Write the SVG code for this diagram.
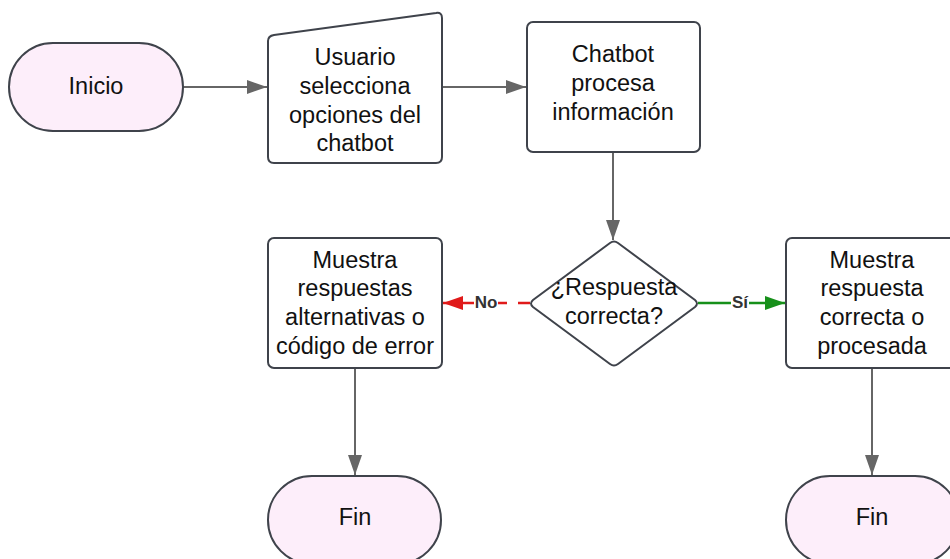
<svg xmlns="http://www.w3.org/2000/svg" width="950" height="559" viewBox="0 0 950 559">
<defs>
<style>
.node{fill:#ffffff;stroke:#3f434b;stroke-width:2}
.term{fill:#fdeefa;stroke:#3f434b;stroke-width:2}
.t{font-family:"Liberation Sans",Arial,sans-serif;font-size:23.5px;fill:#111;text-anchor:middle;dominant-baseline:central}
.c{fill:none;stroke:#666;stroke-width:2}
.lbl{font-family:"Liberation Sans",Arial,sans-serif;font-size:17px;font-weight:bold;fill:#333;text-anchor:middle;dominant-baseline:central}
</style>
<marker id="ag" markerWidth="20" markerHeight="14" refX="20" refY="7" orient="auto" markerUnits="userSpaceOnUse"><path d="M0,0 L20,7 L0,14 Z" fill="#666"/></marker>
<marker id="ar" markerWidth="20" markerHeight="14" refX="20" refY="7" orient="auto" markerUnits="userSpaceOnUse"><path d="M0,0 L20,7 L0,14 Z" fill="#e01a1a"/></marker>
<marker id="agr" markerWidth="20" markerHeight="14" refX="20" refY="7" orient="auto" markerUnits="userSpaceOnUse"><path d="M0,0 L20,7 L0,14 Z" fill="#17901a"/></marker>
</defs>
<rect width="950" height="559" fill="#ffffff"/>
<g id="connectors">
<line class="c" x1="183" y1="87" x2="267" y2="87" marker-end="url(#ag)"/>
<line class="c" x1="442" y1="87" x2="526" y2="87" marker-end="url(#ag)"/>
<line class="c" x1="613" y1="152" x2="613" y2="240" marker-end="url(#ag)"/>
<line x1="530" y1="303" x2="498" y2="303" stroke="#e01a1a" stroke-width="2.5" stroke-dasharray="12,11"/>
<line x1="474" y1="303" x2="443" y2="303" stroke="#e01a1a" stroke-width="2.5" marker-end="url(#ar)"/>
<text class="lbl" x="486" y="302">No</text>
<line x1="698" y1="303" x2="731" y2="303" stroke="#17901a" stroke-width="2.5"/>
<line x1="749" y1="303" x2="785" y2="303" stroke="#17901a" stroke-width="2.5" marker-end="url(#agr)"/>
<text class="lbl" x="740" y="302">Sí</text>
<line class="c" x1="355" y1="368" x2="355" y2="475" marker-end="url(#ag)"/>
<line class="c" x1="872" y1="368" x2="872" y2="475" marker-end="url(#ag)"/>
</g>
<g id="inicio">
<rect class="term" x="9" y="43" width="174" height="88" rx="44" ry="44"/>
<text class="t" x="96" y="86">Inicio</text>
</g>
<g id="usuario">
<path class="node" d="M274,35 L436,13 Q442,12 442,18 L442,157 Q442,163 436,163 L274,163 Q268,163 268,157 L268,41 Q268,36 274,35 Z"/>
<text class="t" x="355" y="57">Usuario</text>
<text class="t" x="355" y="86">selecciona</text>
<text class="t" x="355" y="115">opciones del</text>
<text class="t" x="355" y="143">chatbot</text>
</g>
<g id="chatbot">
<rect class="node" x="527" y="22" width="173" height="130" rx="6"/>
<text class="t" x="613" y="54">Chatbot</text>
<text class="t" x="613" y="83">procesa</text>
<text class="t" x="613" y="112">información</text>
</g>
<g id="decision">
<path class="node" d="M610,243 Q614,240 618,243 L695,300 Q699,303.5 695,307 L618,364 Q614,367 610,364 L533,307 Q529,303.5 533,300 Z"/>
<text class="t" x="614" y="287">¿Respuesta</text>
<text class="t" x="614" y="316">correcta?</text>
</g>
<g id="alternativas">
<rect class="node" x="268" y="238" width="174" height="130" rx="6"/>
<text class="t" x="355" y="260">Muestra</text>
<text class="t" x="355" y="288">respuestas</text>
<text class="t" x="355" y="317">alternativas o</text>
<text class="t" x="355" y="346">código de error</text>
</g>
<g id="correcta">
<rect class="node" x="786" y="238" width="174" height="130" rx="6"/>
<text class="t" x="872" y="260">Muestra</text>
<text class="t" x="872" y="288">respuesta</text>
<text class="t" x="872" y="317">correcta o</text>
<text class="t" x="872" y="346">procesada</text>
</g>
<g id="fin1">
<rect class="term" x="268" y="476" width="173" height="88" rx="44" ry="44"/>
<text class="t" x="355" y="517">Fin</text>
</g>
<g id="fin2">
<rect class="term" x="786" y="476" width="173" height="88" rx="44" ry="44"/>
<text class="t" x="872" y="517">Fin</text>
</g>
</svg>
